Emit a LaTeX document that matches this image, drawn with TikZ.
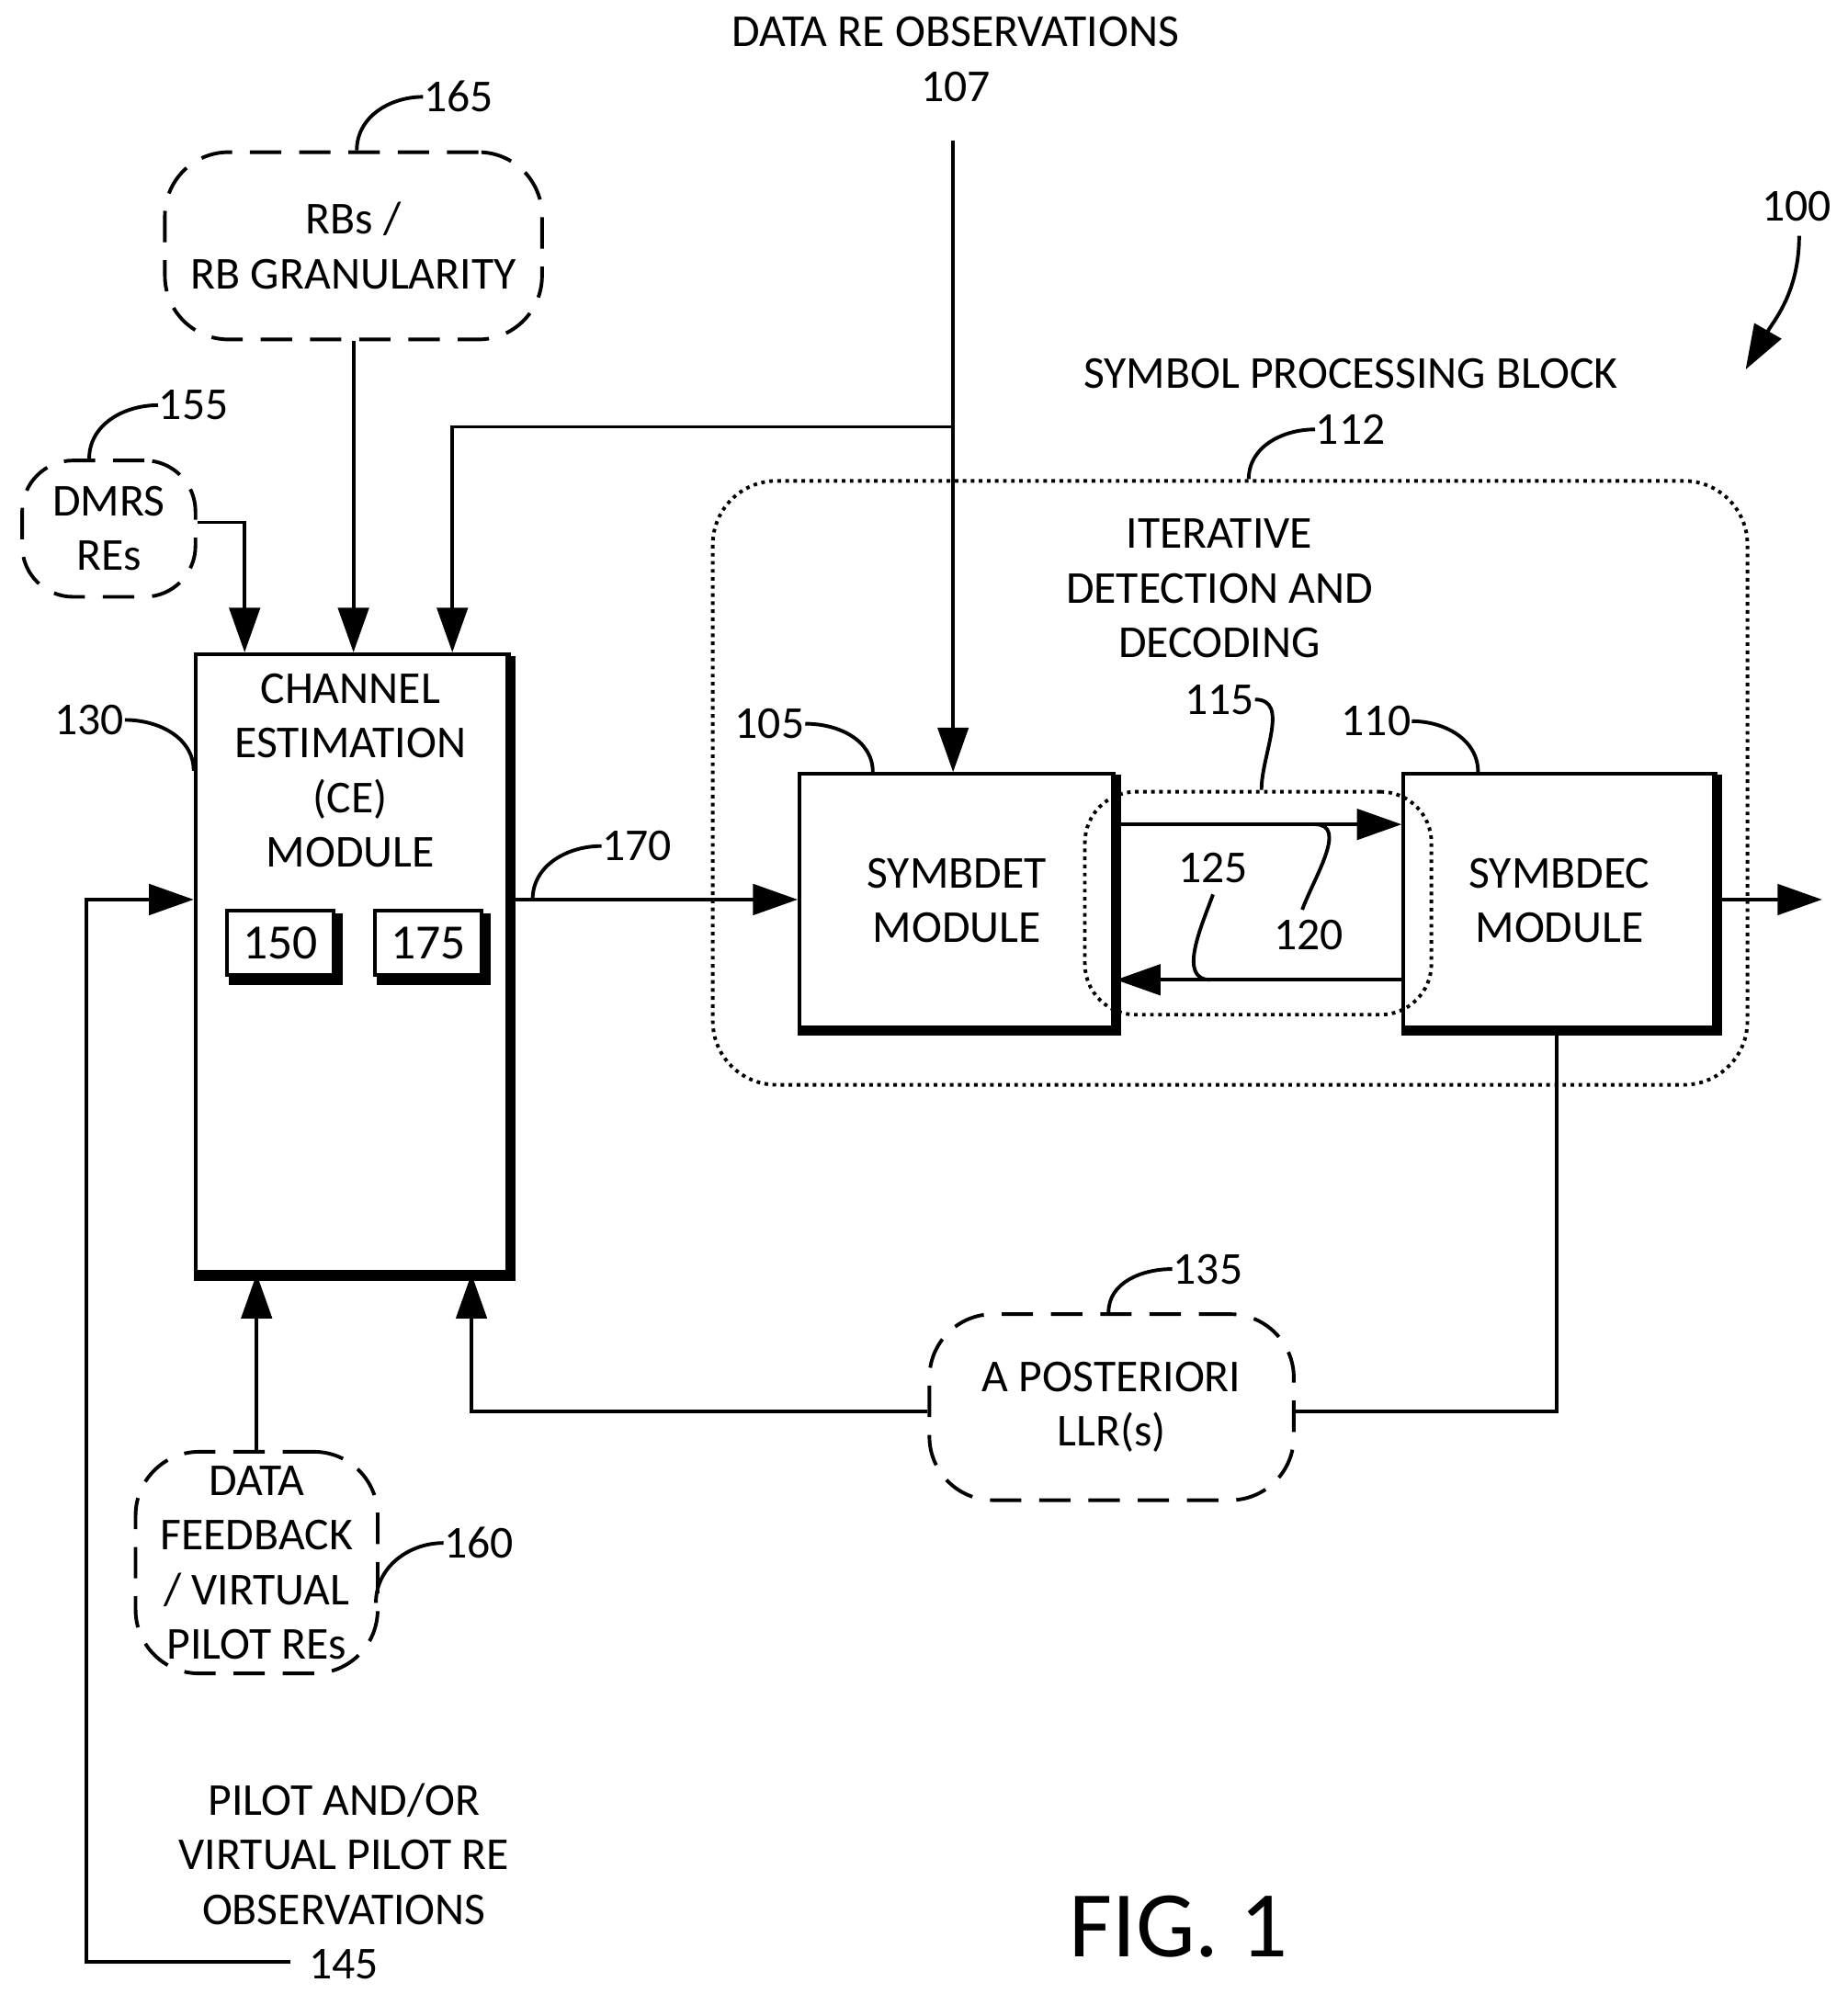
\documentclass[tikz,border=0pt]{standalone}
\usepackage{fontspec}
\setmainfont{Carlito}
\usetikzlibrary{positioning}
\usetikzlibrary{backgrounds}
\usetikzlibrary{calc}
\usetikzlibrary{arrows.meta}
\begin{document}
\begin{tikzpicture}[x=0.1mm,y=-0.1mm,
		font=\fontsize{10.2}{12.2}\selectfont,
		every node/.style={align=center,inner sep=0pt},
		box/.style={draw,thick,rectangle},
		dbox/.style={draw,thick,dashed,dash pattern=on 7pt off 4pt,rectangle,rounded corners=5mm},
		obox/.style={draw,thick,densely dotted,rectangle,rounded corners=5mm},
		arr/.style={thick,-{Triangle[length=3.5mm,width=2.4mm]}},
		lead/.style={thick}]
		\useasboundingbox (0,0) rectangle (1450,1565);

		% modules
		\node[box,minimum width=2.46cm,minimum height=4.85cm,anchor=north west] at (152,512) (ce) {};
		\node[anchor=north] at (275,528) (cet) {CHANNEL\\ESTIMATION\\(CE)\\MODULE};
		\draw[line width=2.2pt] ($(ce.north east)+(0,3)$) -- ($(ce.south east)+(0,2)$) -- ($(ce.south west)+(0,2)$);
		\node[box,minimum width=0.84cm,minimum height=0.5cm] at (220,740) (m150) {\fontsize{11}{12}\selectfont 150};
		\node[box,minimum width=0.84cm,minimum height=0.5cm] at (336,740) (m175) {\fontsize{11}{12}\selectfont 175};
		\draw[line width=2pt] ($(m150.north east)+(2,3)$) |- ($(m150.south west)+(3,3)$);
		\draw[line width=2pt] ($(m175.north east)+(2,3)$) |- ($(m175.south west)+(3,3)$);

		\node[box,minimum width=2.47cm,minimum height=1.99cm,anchor=north west] at (626,606) (det) {SYMBDET\\MODULE};
		\node[box,minimum width=2.45cm,minimum height=1.99cm,anchor=north west] at (1100,606) (dec) {SYMBDEC\\MODULE};
		\draw[line width=2.2pt] ($(det.north east)+(0,2)$) |- ($(det.south west)+(0,1)$);
		\draw[line width=2.2pt] ($(dec.north east)+(0,2)$) |- ($(dec.south west)+(0,1)$);

		\begin{scope}[on background layer]
			\node[obox,minimum width=8.12cm,minimum height=4.74cm,anchor=north west] at (558,376) (spb) {};
			\node[obox,rounded corners=4mm,minimum width=2.72cm,minimum height=1.75cm,anchor=north west] at (850,620) (idd) {};
		\end{scope}

		% dashed inputs
		\node[dbox,minimum width=2.96cm,minimum height=1.47cm,anchor=north west] at (128,118) (rb) {RBs /\\RB GRANULARITY};
		\node[dbox,rounded corners=4mm,minimum width=1.36cm,minimum height=1.07cm,anchor=north west] at (16,360) (dmrs) {DMRS\\REs};
		\node[dbox,minimum width=2.86cm,minimum height=1.46cm,anchor=north west] at (728,1030) (llr) {A POSTERIORI\\LLR(s)};
		\node[dbox,minimum width=1.9cm,minimum height=1.74cm,anchor=north west] at (105,1138) (dfb) {DATA\\FEEDBACK\\/ VIRTUAL\\PILOT REs};

		% texts
		\node at (750,25) (dre) {DATA RE OBSERVATIONS};
		\node at (750,68) (n107) {107};
		\node at (1060,293) (spbt) {SYMBOL PROCESSING BLOCK};
		\node at (957,462) (iddt) {ITERATIVE\\DETECTION AND\\DECODING};
		\node at (270,1455) (pil) {PILOT AND/OR\\VIRTUAL PILOT RE\\OBSERVATIONS};
		\node at (270,1542) (n145) {145};
		\node at (925,1512) (fig) {\fontsize{21}{24}\selectfont FIG. 1};
		\node at (1410,162) (n100) {100};

		% connectors
		\coordinate (tap) at (748,335);
		\draw[arr] (748,110) -- (det.north -| 748,0);
		\draw[arr] (tap) -| (ce.north -| 355,0);
		\draw[arr] (rb.south) -- (ce.north -| rb.south);
		\draw[arr] (dmrs.east |- 0,410) -| (ce.north -| 192,0);
		\draw[arr] (ce.east |- 0,706) -- (det.west |- 0,706);
		\draw[arr] (det.east |- 0,647) -- (dec.west |- 0,647);
		\draw[arr] (dec.west |- 0,769) -- (det.east |- 0,769);
		\draw[arr] (dec.east |- 0,706) -- (1430,706);
		\draw[thick] (dec.south -| 1222,0) |- (llr.east |- 0,1108);
		\draw[arr] (llr.west |- 0,1108) -| (ce.south -| 370,0);
		\draw[arr] (dfb.north) -- (ce.south -| dfb.north);
		\draw[arr] (228,1540) -| (68,706) -- (ce.west |- 0,706);

		% leaders
		\node at (360,76) (n165) {165};
		\draw[lead] (n165.west) to[out=180,in=90] (280,118);
		\node at (152,318) (n155) {155};
		\draw[lead] (n155.west) to[out=180,in=90] (70,360);
		\node at (70,565) (n130) {130};
		\draw[lead] (n130.east) to[out=0,in=90] (152,605);
		\node at (500,664) (n170) {170};
		\draw[lead] (n170.west) to[out=180,in=90] (418,706);
		\node at (1060,337) (n112) {112};
		\draw[lead] (n112.west) to[out=180,in=90] (980,376);
		\node at (604,568) (n105) {105};
		\draw[lead] (n105.east) to[out=0,in=90] (685,606);
		\node at (1080,566) (n110) {110};
		\draw[lead] (n110.east) to[out=0,in=90] (1160,606);
		\node at (957,549) (n115) {115};
		\draw[lead] (n115.east) to[out=0,in=90] (990,620);
		\node at (952,681) (n125) {125};
		\draw[lead] (950,769) to[out=180,in=250] (952,702);
		\node at (1027,734) (n120) {120};
		\draw[lead] (1032,647) to[out=0,in=70] (1022,714);
		\node at (948,996) (n135) {135};
		\draw[lead] (n135.west) to[out=180,in=90] (870,1030);
		\node at (376,1211) (n160) {160};
		\draw[lead] (n160.west) to[out=180,in=90] (295,1258);
		\draw[arr] (1412,185) to[out=270,in=60] (1370,290);
	\end{tikzpicture}
\end{document}
